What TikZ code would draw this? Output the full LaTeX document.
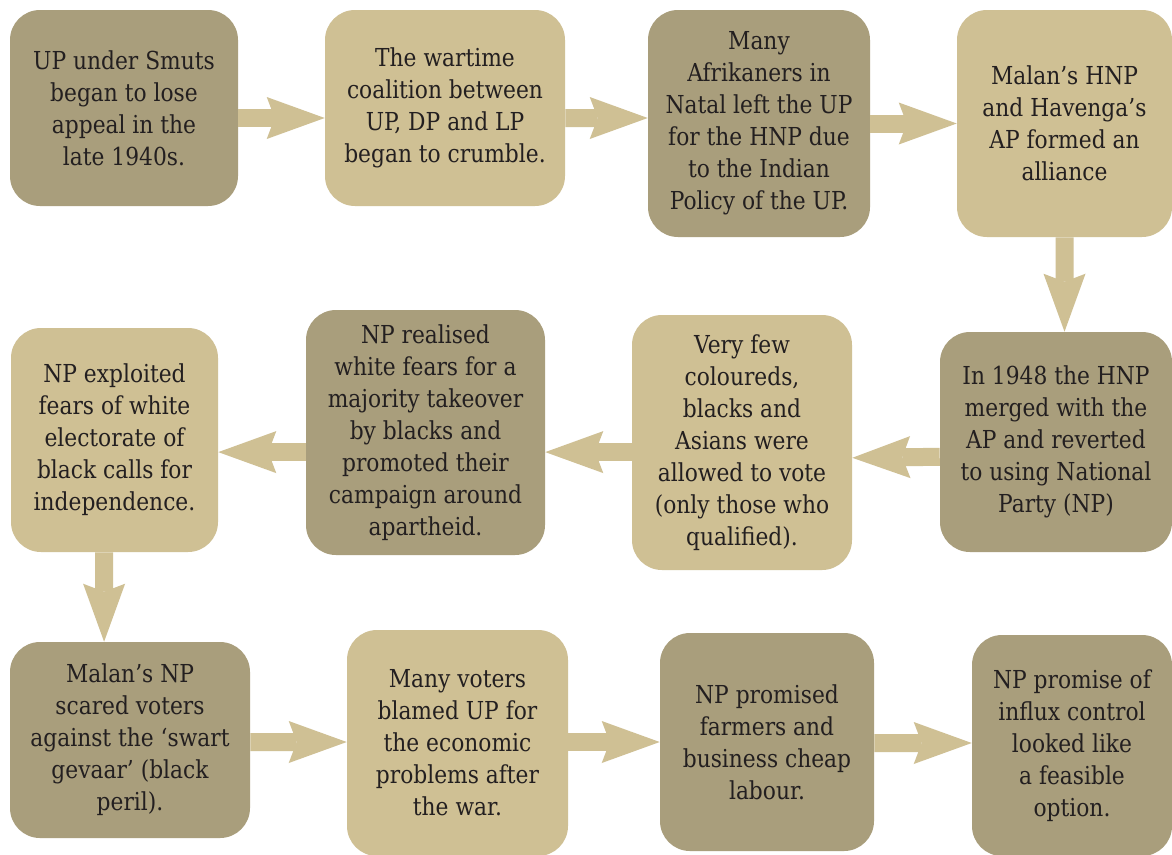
\documentclass[tikz,border=0pt]{standalone}
\usepackage{fontspec}
\setmainfont{DejaVu Serif}[FakeStretch=0.88]
\usepackage{tikz}
\usetikzlibrary{arrows.meta}
\definecolor{flowdark}{HTML}{A99E7C}
\definecolor{flowlight}{HTML}{CFC094}
\definecolor{flowtext}{HTML}{231F20}
\tikzset{
  box/.style      ={rectangle, rounded corners=0.75cm, inner sep=0pt, align=center,
                    text=flowtext, font=\fontsize{17.6}{22.8}\selectfont},
  darkbox/.style  ={box, fill=flowdark},
  lightbox/.style ={box, fill=flowlight},
  flow/.style     ={draw=flowlight, line width=0.45cm,
                    -{Stealth[length=1.45cm, width=1.05cm, inset=0.2cm, line width=0pt]}},
}

\begin{document}
\begin{tikzpicture}
  \useasboundingbox[fill=white] (0,0) rectangle (29.3,-21.35);

  % top row
  \node[darkbox, minimum width=5.7cm, minimum height=4.9cm] (smuts) at (3.1,-2.7)
    {UP under Smuts\\began to lose\\appeal in the\\late 1940s.};
  \node[lightbox, minimum width=6cm, minimum height=4.9cm] (coalition) at (11.125,-2.7)
    {The wartime\\coalition between\\UP, DP and LP\\began to crumble.};
  \node[darkbox, minimum width=5.55cm, minimum height=5.675cm] (natal) at (18.975,-3.0875)
    {Many\\Afrikaners in\\Natal left the UP\\for the HNP due\\to the Indian\\Policy of the UP.};
  \node[lightbox, minimum width=5.375cm, minimum height=5.675cm] (alliance) at (26.6125,-3.0875)
    {Malan’s HNP\\and Havenga’s\\AP formed an\\alliance};

  % middle row
  \node[darkbox, minimum width=5.8cm, minimum height=5.5cm] (merger) at (26.4,-11.05)
    {In 1948 the HNP\\merged with the\\AP and reverted\\to using National\\Party (NP)};
  \node[lightbox, minimum width=5.5cm, minimum height=6.375cm] (vote) at (18.55,-11.0625)
    {Very few\\coloureds,\\blacks and\\Asians were\\allowed to vote\\(only those who\\qualified).};
  \node[darkbox, minimum width=5.975cm, minimum height=6.125cm] (fears) at (10.6375,-10.8125)
    {NP realised\\white fears for a\\majority takeover\\by blacks and\\promoted their\\campaign around\\apartheid.};
  \node[lightbox, minimum width=5.175cm, minimum height=5.6cm] (exploit) at (2.8625,-11)
    {NP exploited\\fears of white\\electorate of\\black calls for\\independence.};

  % bottom row
  \node[darkbox, minimum width=6cm, minimum height=4.9cm] (swart) at (3.25,-18.5)
    {Malan’s NP\\scared voters\\against the ‘swart\\gevaar’ (black\\peril).};
  \node[lightbox, minimum width=5.525cm, minimum height=5.65cm] (blame) at (11.4375,-18.575)
    {Many voters\\blamed UP for\\the economic\\problems after\\the war.};
  \node[darkbox, minimum width=5.35cm, minimum height=5.45cm] (labour) at (19.175,-18.55)
    {NP promised\\farmers and\\business cheap\\labour.};
  \node[darkbox, minimum width=5cm, minimum height=5.525cm] (influx) at (26.8,-18.6375)
    {NP promise of\\influx control\\looked like\\a feasible\\option.};

  % arrows
  \draw[flow] ([yshift=-0.25cm]smuts.east) -- ([yshift=-0.25cm]coalition.west);
  \draw[flow] ([yshift=-0.25cm]coalition.east) -- ([yshift=0.1375cm]natal.west);
  \draw[flow] (natal.east) -- (alliance.west);
  \draw[flow] (alliance.south) -- ([xshift=0.2125cm]merger.north);
  \draw[flow] ([yshift=-0.37cm]merger.west) -- ([yshift=-0.3825cm]vote.east);
  \draw[flow] ([yshift=-0.24cm]vote.west) -- ([yshift=-0.49cm]fears.east);
  \draw[flow] ([yshift=-0.49cm]fears.west) -- ([yshift=-0.3025cm]exploit.east);
  \draw[flow] ([xshift=-0.26cm]exploit.south) -- ([xshift=-0.6475cm]swart.north);
  \draw[flow] ([yshift=-0.05cm]swart.east) -- ([yshift=0.025cm]blame.west);
  \draw[flow] ([yshift=0.025cm]blame.east) -- (labour.west);
  \draw[flow] ([yshift=-0.025cm]labour.east) -- ([yshift=0.0625cm]influx.west);
\end{tikzpicture}
\end{document}
